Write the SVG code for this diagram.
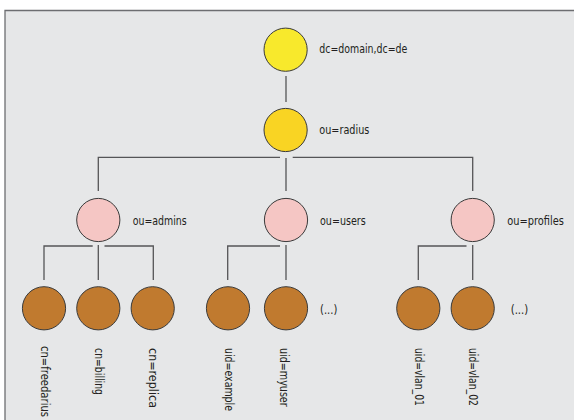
<svg xmlns="http://www.w3.org/2000/svg" width="574" height="420" viewBox="0 0 574 420">
<style>
.lbl{font-family:"DejaVu Sans Condensed","DejaVu Sans",sans-serif;font-stretch:condensed;font-size:12.5px;fill:#231f20}
.sm{font-size:11.5px}
.n{stroke:#3a3a3a;stroke-width:1}
.root{fill:#f8e92c}
.rad{fill:#f9d423}
.ou{fill:#f5c6c4}
.leaf{fill:#c07a2f}
.c{stroke:#555557;stroke-width:1.3;fill:none}
</style>
<rect x="0" y="0" width="574" height="420" fill="#ffffff"/>
<rect x="5" y="10.5" width="569" height="409.5" fill="#e6e7e8"/>
<path d="M5 420V10.5H574" fill="none" stroke="#6d6e71" stroke-width="1.3"/>
<g id="connectors">
<path class="c" d="M286 76V102"/>
<path class="c" d="M98.3 191V157.3H280M292.7 157.3H472.7V191M286 158V191"/>
<path class="c" d="M44 280V246H92.7M104.5 246H153.3V280M98.3 245V280"/>
<path class="c" d="M227.7 280V246H280M286 245V280"/>
<path class="c" d="M418.3 280V246H466.5M472.7 245V280"/>
</g>
<g id="n-root"><circle class="n root" cx="285.6" cy="49.7" r="21.6"/><text class="lbl" x="319.3" y="52.7" textLength="88" lengthAdjust="spacingAndGlyphs">dc=domain,dc=de</text></g>
<g id="n-radius"><circle class="n rad" cx="285.6" cy="130" r="21.6"/><text class="lbl" x="319.3" y="133.5" textLength="50" lengthAdjust="spacingAndGlyphs">ou=radius</text></g>
<g id="n-admins"><circle class="n ou" cx="98.3" cy="220" r="21.6"/><text class="lbl" x="132.7" y="225" textLength="54" lengthAdjust="spacingAndGlyphs">ou=admins</text></g>
<g id="n-users"><circle class="n ou" cx="286" cy="220" r="21.6"/><text class="lbl" x="320" y="225" textLength="45.7" lengthAdjust="spacingAndGlyphs">ou=users</text></g>
<g id="n-profiles"><circle class="n ou" cx="472.7" cy="220" r="21.6"/><text class="lbl" x="507.3" y="225" textLength="56.7" lengthAdjust="spacingAndGlyphs">ou=profiles</text></g>
<g id="n-freedarius"><circle class="n leaf" cx="44" cy="308.3" r="21.6"/><text class="lbl sm" transform="translate(40.5,346) rotate(90)" textLength="71" lengthAdjust="spacingAndGlyphs">cn=freedarius</text></g>
<g id="n-billing"><circle class="n leaf" cx="98.3" cy="308.3" r="21.6"/><text class="lbl" transform="translate(95,348) rotate(90)" textLength="47" lengthAdjust="spacingAndGlyphs">cn=billing</text></g>
<g id="n-replica"><circle class="n leaf" cx="152.7" cy="308.3" r="21.6"/><text class="lbl" transform="translate(149.3,348) rotate(90)" textLength="60" lengthAdjust="spacingAndGlyphs">cn=replica</text></g>
<g id="n-example"><circle class="n leaf" cx="228" cy="308.3" r="21.6"/><text class="lbl sm" transform="translate(224.5,348) rotate(90)" textLength="63" lengthAdjust="spacingAndGlyphs">uid=example</text></g>
<g id="n-myuser"><circle class="n leaf" cx="286" cy="308.3" r="21.6"/><text class="lbl" transform="translate(280,348) rotate(90)" textLength="58.7" lengthAdjust="spacingAndGlyphs">uid=myuser</text></g>
<g id="n-more1"><text class="lbl" x="320" y="313.5" textLength="17.3" lengthAdjust="spacingAndGlyphs">(...)</text></g>
<g id="n-vlan01"><circle class="n leaf" cx="418.3" cy="308.3" r="21.6"/><text class="lbl" transform="translate(414.5,348) rotate(90)" textLength="58" lengthAdjust="spacingAndGlyphs">uid=vlan_01</text></g>
<g id="n-vlan02"><circle class="n leaf" cx="472.7" cy="308.3" r="21.6"/><text class="lbl" transform="translate(469,348) rotate(90)" textLength="58" lengthAdjust="spacingAndGlyphs">uid=vlan_02</text></g>
<g id="n-more2"><text class="lbl" x="510.7" y="313.5" textLength="17.6" lengthAdjust="spacingAndGlyphs">(...)</text></g>
</svg>
